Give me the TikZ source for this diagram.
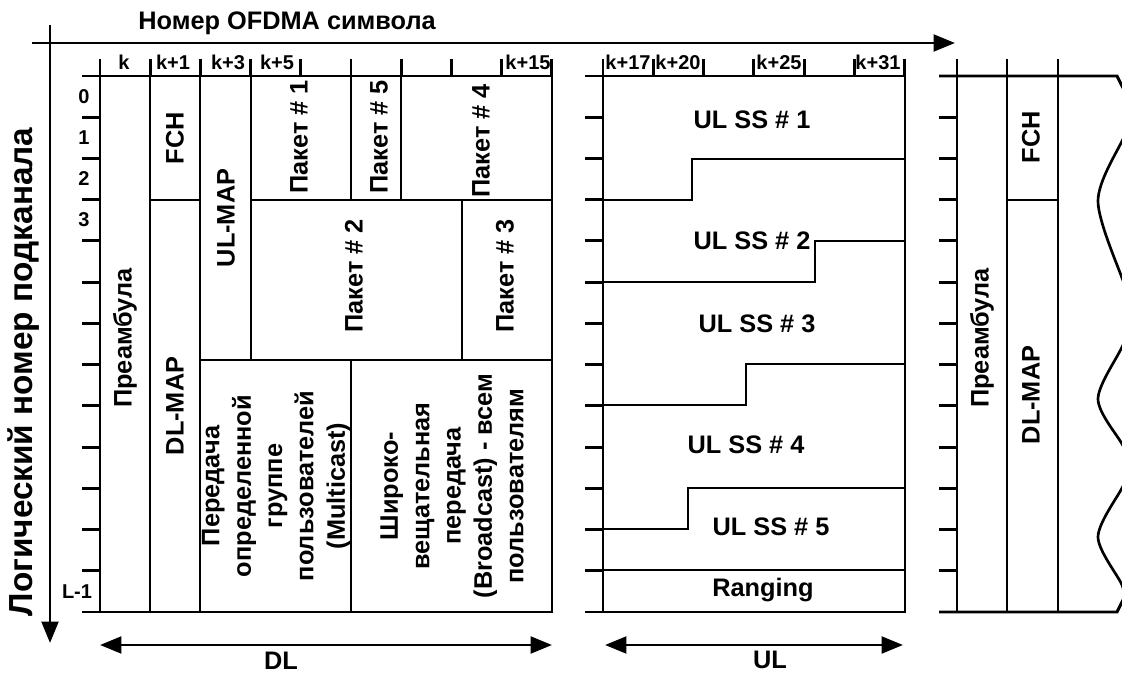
\documentclass[tikz,border=0pt]{standalone}
\usepackage{fontspec}
\setmainfont{Liberation Sans}
\usetikzlibrary{arrows.meta}

\tikzset{
    lbl/.style={font=\bfseries\fontsize{19}{23.5}\selectfont, inner sep=0pt},
    vlbl/.style={lbl, rotate=90, align=center},
    tlbl/.style={font=\bfseries\fontsize{15}{18}\selectfont, inner sep=0pt, anchor=base},
    axis/.style={-{Triangle[length=16pt, width=12.5pt]}},
    span/.style={{Triangle[length=16pt, width=12.5pt]}-{Triangle[length=16pt, width=12.5pt]}}
}

\begin{document}
\begin{tikzpicture}[x=0.75pt, y=-0.75pt, line width=2.2pt]
    \useasboundingbox (0,0) rectangle (1122,673);

    % Axes
    \coordinate (symstart) at (32,43);
    \coordinate (symend) at (955,43);
    \coordinate (subtop) at (50,25);
    \coordinate (subbot) at (50,643);
    \draw[axis] (symstart) -- (symend);
    \draw[axis] (subtop) -- (subbot);
    \node[lbl] (symtitle) at (287,23) {Номер OFDMA символа};
    \node[lbl, rotate=90, font=\bfseries\fontsize{25}{30}\selectfont] (subtitle) at (24,372) {Логический номер подканала};

    % Subchannel ticks left of each part
    \foreach \xl in {82,585,939} {
        \foreach \j in {0,...,13} {
            \draw (\xl,{76+41.23*\j}) -- ++(18,0);
        }
    }

    % Symbol ticks on top
    \foreach \xt in {100,150.2,...,552} \draw (\xt,59) -- (\xt,76);
    \foreach \xt in {603,653.3,...,906} \draw (\xt,59) -- (\xt,76);
    \foreach \xt in {957,1007,1058} \draw (\xt,59) -- (\xt,76);

    % Symbol numbers
    \node[tlbl] (sk) at (124,70) {k};
    \node[tlbl] (sk1) at (173,70) {k+1};
    \node[tlbl] (sk3) at (228,70) {k+3};
    \node[tlbl] (sk5) at (277,70) {k+5};
    \node[tlbl] (sk15) at (528,70) {k+15};
    \node[tlbl] (sk17) at (628,70) {k+17};
    \node[tlbl] (sk20) at (678,70) {k+20};
    \node[tlbl] (sk25) at (779,70) {k+25};
    \node[tlbl] (sk31) at (878,70) {k+31};

    % Subchannel numbers
    \node[tlbl, anchor=center] (row0) at (84,97) {0};
    \node[tlbl, anchor=center] (row1) at (84,138) {1};
    \node[tlbl, anchor=center] (row2) at (84,179) {2};
    \node[tlbl, anchor=center] (row3) at (84,220) {3};
    \node[tlbl, anchor=center] (rowL) at (77,592) {L-1};

    % DL subframe
    \draw (100,76) rectangle (150,612);
    \draw (150,76) rectangle (200,200);
    \draw (150,200) rectangle (200,612);
    \draw (200,76) rectangle (251,360);
    \draw (251,76) rectangle (351,200);
    \draw (351,76) rectangle (401,200);
    \draw (401,76) rectangle (552,200);
    \draw (251,200) rectangle (462,360);
    \draw (462,200) rectangle (552,360);
    \draw (200,360) rectangle (351,612);
    \draw (351,360) rectangle (552,612);

    \node[vlbl] (pre) at (125,338) {Преамбула};
    \node[vlbl] (fch) at (175,138) {FCH};
    \node[vlbl] (dlmap) at (175,406) {DL-MAP};
    \node[vlbl] (ulmap) at (226,218) {UL-MAP};
    \node[vlbl] (pk1) at (299,137) {Пакет \# 1};
    \node[vlbl] (pk5) at (379,137) {Пакет \# 5};
    \node[vlbl] (pk4) at (481,141) {Пакет \# 4};
    \node[vlbl] (pk2) at (354,276) {Пакет \# 2};
    \node[vlbl] (pk3) at (505,276) {Пакет \# 3};
    \node[vlbl] (mcast) at (276,486) {Передача\\определенной\\группе\\пользователей\\(Multicast)};
    \node[vlbl] (bcast) at (452,486) {Широко-\\вещательная\\передача\\(Broadcast) - всем\\пользователям};

    % UL subframe
    \draw (603,76) rectangle (905,612);
    \draw (585,200) -- (692,200) -- (692,159) -- (905,159);
    \draw (585,282) -- (815,282) -- (815,241) -- (905,241);
    \draw (585,405) -- (746,405) -- (746,364) -- (905,364);
    \draw (585,529) -- (688,529) -- (688,488) -- (905,488);
    \draw (585,570) -- (905,570);

    \node[lbl] (ss1) at (752,120) {UL SS \# 1};
    \node[lbl] (ss2) at (752,241) {UL SS \# 2};
    \node[lbl] (ss3) at (757,324) {UL SS \# 3};
    \node[lbl] (ss4) at (746,445) {UL SS \# 4};
    \node[lbl] (ss5) at (771,527) {UL SS \# 5};
    \node[lbl] (rng) at (763,590) {Ranging};

    % Next frame (cut off)
    \draw (939,76) -- (1117,76) -- (1123,88);
    \draw (939,612) -- (1117,612) -- (1123,600);
    \draw (957,76) -- (957,612);
    \draw (1007,76) -- (1007,612);
    \draw (1058,76) -- (1058,612);
    \draw (1007,200) -- (1058,200);
    \draw[line width=2pt] plot[smooth] coordinates {(1123,88) (1140,112) (1122,141) (1098,201) (1122,278) (1138,312) (1122,347) (1098,399) (1122,444) (1134,466) (1122,488) (1098,537) (1122,585) (1123,600)};

    \node[vlbl] (pre2) at (982,338) {Преамбула};
    \node[vlbl] (fch2) at (1031,137) {FCH};
    \node[vlbl] (dlmap2) at (1031,395) {DL-MAP};

    % DL and UL spans
    \coordinate (dlleft) at (100,645);
    \coordinate (dlright) at (552,645);
    \coordinate (ulleft) at (605,645);
    \coordinate (ulright) at (903,645);
    \draw[span] (dlleft) -- (dlright);
    \draw[span] (ulleft) -- (ulright);
    \node[lbl] (dl) at (281,661) {DL};
    \node[lbl] (ul) at (770,660) {UL};
\end{tikzpicture}
\end{document}
